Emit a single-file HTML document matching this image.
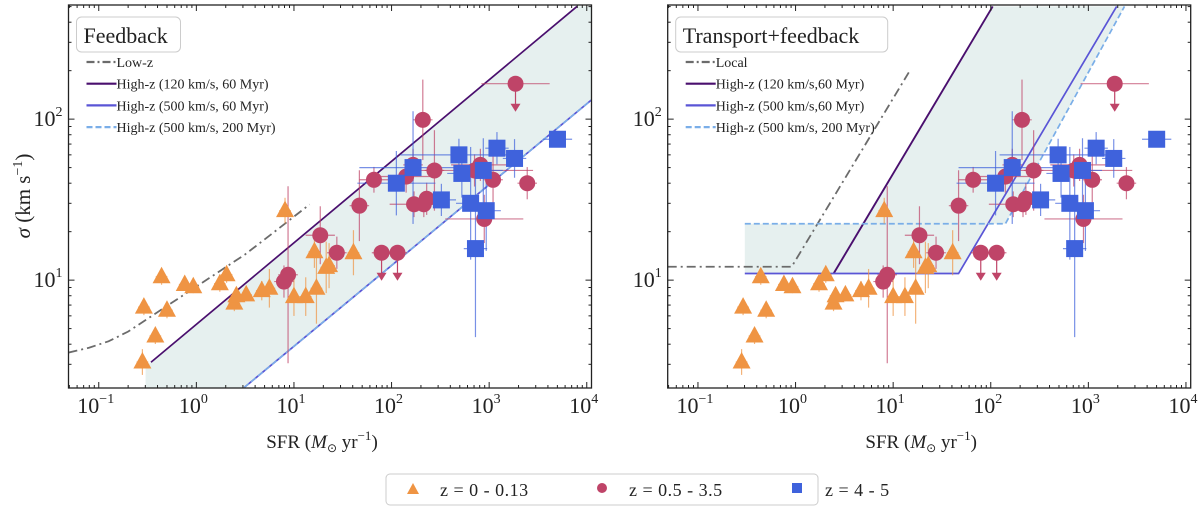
<!DOCTYPE html>
<html><head><meta charset="utf-8">
<style>
body{margin:0;background:#fff;}
svg{display:block;font-family:"Liberation Serif",serif;}
</style></head>
<body>
<svg id="fig" width="1200" height="508" viewBox="0 0 1200 508" xmlns="http://www.w3.org/2000/svg"></svg>
<script>
// ---- data (SFR, sigma in km/s) ----
const triSFR = [0.29,0.44,0.76,0.93,0.50,0.38,0.28,1.74,2.04,2.45,2.57,3.24,4.68,5.6,8.1,10,13.2,17,16.2,21.4,40.7,22.9];
const triSig = [6.8,10.5,9.4,9.1,6.5,4.5,3.1,9.5,10.8,7.2,8.0,8.1,8.6,8.9,27,7.9,7.9,8.9,15,12,14.8,12.3];
const triYerr = [0.05,0.05,0.04,0.04,0.05,0.05,0.08,0.05,0.05,0.05,0.05,0.04,0.06,0.12,0.08,0.12,0.12,0.22,0.10,0.16,0.14,0.14];

const cirSFR = [7.9,8.7,18.6,27.5,46.8,66,79,115,209,141,166,170,214,229,275,708,813,891,1096,1862,2455];
const cirSig = [9.8,10.8,19,14.8,29,42,14.8,14.8,99,44,52,29.6,29.6,32,48,48,52,24,42,166,40];
const cirUL  = [0,0,0,0,0,0,1,1,0,0,0,0,0,0,0,0,0,0,0,1,0];
const cirXerr = [0.1,0.1,0.15,0.1,0.1,0.15,0.1,0.1,0.1,0.3,0.1,0.25,0.1,0.15,0.1,0.6,0.3,0.4,0.1,0.35,0.1];
const cirYerr = [0.1,0.55,0.18,0.1,0.22,0.08,0.1,0.1,0.25,0.1,0.1,0.08,0.08,0.1,0.25,0.1,0.1,0.15,0.15,0.1,0.1];

const sqSFR = [112,166,324,490,525,871,646,933,724,1202,1820,5012];
const sqSig = [40,50,31.5,60,46,48,30,27,15.7,66,57,75];
const sqXerr = [0.4,0.55,0.15,0.6,0.15,0.2,0.15,0.15,0.12,0.12,0.12,0.15];
const sqYerr = [0.2,0.35,0.1,0.1,0.15,0.2,0.35,0.25,0.55,0.1,0.12,0.05];

// model curves (log10 SFR, log10 sigma)
const lowZ = [[-1.31,0.55],[-1.1,0.58],[-0.9,0.62],[-0.7,0.68],[-0.5,0.76],[-0.25,0.86],[0,0.96],[0.25,1.06],[0.5,1.16],[0.8,1.30],[1.16,1.47]];
const hzA_L = [[-0.465,0.49],[3.9,2.70]];
const hzB_L = [[0.49,0.333],[4.05,2.12]];
const local_R = [[-1.31,1.083],[-0.04,1.083],[1.16,2.29]];
const hzA_R = [[0.39,1.041],[2.02,2.70]];
const hzB_R = [[-0.52,1.041],[1.67,1.041],[3.29,2.70]];
const hzC_R = [[-0.52,1.35],[2.15,1.35],[3.37,2.70]];

const NS="http://www.w3.org/2000/svg";
const svg=document.getElementById('fig');
function el(t,a,p){const e=document.createElementNS(NS,t);for(const k in a)e.setAttribute(k,a[k]);(p||svg).appendChild(e);return e;}

const ORANGE="#ef9443", CRIM="#bf4468", BLUE="#3f62dc";
const XMIN=-1.31, XPX=97.6, YMIN=0.33, YPX=161, TOP=5, BOT=388;

function panel(X0, title, titleW, labels, lines, fillPoly){
  const W=523;
  const g=el('g',{});
  
  
  const px=lx=>X0+(lx-XMIN)*XPX;
  const py=ly=>BOT-(ly-YMIN)*YPX;
  const cp=el('clipPath',{id:'clip'+Math.round(X0)},g);
  el('rect',{x:X0,y:TOP,width:W,height:BOT-TOP},cp);
  const inner=el('g',{'clip-path':'url(#clip'+Math.round(X0)+')'},g);
  const fp=el('polygon',{points:fillPoly.map(p=>px(p[0])+','+py(p[1])).join(' '),fill:'#e6f0ef'},inner);
  
  
  lines.forEach(L=>{
    const l=el('polyline',{points:L.pts.map(p=>px(p[0])+','+py(p[1])).join(' '),fill:'none',stroke:L.c,'stroke-width':L.w,'stroke-dasharray':L.d||''},inner);
    
    
  });
  const eb=(x,y,xe,ye,c)=>{
    const lx=Math.log10(x), ly=Math.log10(y);
    if(xe) el('line',{x1:px(lx-xe),x2:px(lx+xe),y1:py(ly),y2:py(ly),stroke:c,'stroke-width':1.2,opacity:0.7},inner);
    if(ye) el('line',{x1:px(lx),x2:px(lx),y1:py(ly-ye),y2:py(ly+ye),stroke:c,'stroke-width':1.2,opacity:0.7},inner);
  };
  triSFR.forEach((s,i)=>eb(s,triSig[i],0.06,triYerr[i],ORANGE));
  cirSFR.forEach((s,i)=>eb(s,cirSig[i],cirXerr[i],cirUL[i]?0:cirYerr[i],CRIM));
  sqSFR.forEach((s,i)=>eb(s,sqSig[i],sqXerr[i],sqYerr[i],BLUE));
  triSFR.forEach((s,i)=>{
    const x=px(Math.log10(s)), y=py(Math.log10(triSig[i]));
    const m=el('polygon',{points:`${x},${y-10} ${x-9},${y+6.5} ${x+9},${y+6.5}`,fill:ORANGE},inner);
    
    
  });
  cirSFR.forEach((s,i)=>{
    const x=px(Math.log10(s)), y=py(Math.log10(cirSig[i]));
    if(cirUL[i]){
      el('line',{x1:x,x2:x,y1:y,y2:y+22,stroke:CRIM,'stroke-width':1.2},inner);
      el('polygon',{points:`${x-5},${y+20} ${x+5},${y+20} ${x},${y+28}`,fill:CRIM},inner);
    }
    const m=el('circle',{cx:x,cy:y,r:8,fill:CRIM},inner);
    
    
  });
  sqSFR.forEach((s,i)=>{
    const x=px(Math.log10(s)), y=py(Math.log10(sqSig[i]));
    const m=el('rect',{x:x-8.5,y:y-8.5,width:17,height:17,fill:BLUE},inner);
    
    
  });
  const fr=el('rect',{x:X0,y:TOP,width:W,height:BOT-TOP,fill:'none',stroke:'#222','stroke-width':1.3},g);
  
  
  for(let d=-2;d<=4;d++){for(let m=1;m<=9;m++){
    const x=px(d+Math.log10(m));
    if(x<X0+0.5||x>X0+W-0.5) continue;
    const len=m===1?6:3;
    el('line',{x1:x,x2:x,y1:BOT,y2:BOT-len,stroke:'#222','stroke-width':1},g);
    el('line',{x1:x,x2:x,y1:TOP,y2:TOP+len,stroke:'#222','stroke-width':1},g);
  }}
  for(let d=0;d<=2;d++){for(let m=1;m<=9;m++){
    const y=py(d+Math.log10(m));
    if(y<TOP+0.5||y>BOT-0.5) continue;
    const len=m===1?6:3;
    el('line',{x1:X0,x2:X0+len,y1:y,y2:y,stroke:'#222','stroke-width':1},g);
    el('line',{x1:X0+W,x2:X0+W-len,y1:y,y2:y,stroke:'#222','stroke-width':1},g);
  }}
  [-1,0,1,2,3,4].forEach(d=>{
    const t=el('text',{x:px(d)-3,y:413,'font-size':22,'text-anchor':'middle',fill:'#222'},g);
    
    
    t.innerHTML='10<tspan dy="-10" font-size="14">'+d.toString().replace('-','−')+'</tspan>';
  });
  [1,2].forEach(d=>{
    const t=el('text',{x:X0-6,y:py(d)+7,'font-size':22,'text-anchor':'end',fill:'#222'},g);
    
    
    t.innerHTML='10<tspan dy="-10" font-size="14">'+d+'</tspan>';
  });
  const xl=el('text',{x:X0+W/2-8,y:448,'font-size':19,'text-anchor':'middle',fill:'#222'},g);
  
  
  xl.innerHTML='SFR (<tspan font-style="italic">M</tspan><tspan font-size="12" dy="4">⊙</tspan><tspan dy="-4"> yr</tspan><tspan dy="-8" font-size="13">−1</tspan><tspan dy="8">)</tspan>';
  const lb=el('rect',{x:X0+8,y:17,width:titleW,height:35,rx:5,fill:'#fff',stroke:'#ccc','stroke-width':1},g);
  
  
  const tt=el('text',{x:X0+15,y:43,'font-size':22,fill:'#222'},g);
  tt.textContent=title;
  
  
  labels.forEach((L,i)=>{
    const y=67+i*21.7;
    el('line',{x1:X0+18,x2:X0+48,y1:y-5,y2:y-5,stroke:L.c,'stroke-width':L.w,'stroke-dasharray':L.d||''},g);
    const t=el('text',{x:X0+48,y:y,'font-size':14,fill:'#222'},g);
    t.textContent=L.t;
    
    
  });
}

const GRAY="#6b6b6b", PURP="#4a0f6e", MB="#5a55d6", LB="#7aaee8";
panel(68.5,'Feedback',104,[
  {t:'Low-z',c:GRAY,w:2.2,d:'8 3 2 3'},
  {t:'High-z (120 km/s, 60 Myr)',c:PURP,w:2.2},
  {t:'High-z (500 km/s, 60 Myr)',c:MB,w:2.2},
  {t:'High-z (500 km/s, 200 Myr)',c:LB,w:2.2,d:'6 3'}],
 [{pts:lowZ,c:GRAY,w:1.8,d:'9 4 2 4',name:'low-z-model'},
  {pts:hzA_L,c:PURP,w:1.7,name:'high-z-120-60'},
  {pts:hzB_L,c:MB,w:1.7,name:'high-z-500-60'},
  {pts:hzB_L,c:LB,w:1.5,d:'6 3',name:'high-z-500-200'}],
 [[-0.52,0.463],[3.9,2.70],[4.1,2.70],[4.1,2.145],[0.49,0.333],[-0.52,0.333]]);

panel(667.7,'Transport+feedback',212,[
  {t:'Local',c:GRAY,w:2.2,d:'8 3 2 3'},
  {t:'High-z (120 km/s,60 Myr)',c:PURP,w:2.2},
  {t:'High-z (500 km/s,60 Myr)',c:MB,w:2.2},
  {t:'High-z (500 km/s, 200 Myr)',c:LB,w:2.2,d:'6 3'}],
 [{pts:local_R,c:GRAY,w:1.8,d:'9 4 2 4',name:'local-model'},
  {pts:hzA_R,c:PURP,w:1.9,name:'high-z-120-60'},
  {pts:hzB_R,c:MB,w:1.7,name:'high-z-500-60'},
  {pts:hzC_R,c:LB,w:1.7,d:'6 3',name:'high-z-500-200'}],
 [[-0.52,1.35],[0.69,1.35],[2.02,2.70],[3.37,2.70],[2.15,1.35],[1.97,1.35],[1.67,1.041],[-0.52,1.041]]);

const yl=el('text',{x:0,y:0,'font-size':21,'text-anchor':'middle',fill:'#222',transform:'translate(30,196) rotate(-90)'});


yl.innerHTML='<tspan font-style="italic">σ</tspan> (km s<tspan dy="-8" font-size="14">−1</tspan><tspan dy="8">)</tspan>';

const lg=el('rect',{x:386,y:474,width:432,height:31,rx:4,fill:'#fff',stroke:'#ccc','stroke-width':1});


el('polygon',{points:'413,483 407,494 419,494',fill:ORANGE});
el('circle',{cx:602,cy:488,r:5,fill:CRIM});
el('rect',{x:792,y:483,width:10,height:10,fill:BLUE});
[[440,'z = 0 - 0.13'],[629,'z = 0.5 - 3.5'],[825,'z = 4 - 5']].forEach(a=>{
  const t=el('text',{x:a[0],y:496,'font-size':18,fill:'#222','letter-spacing':'0.5'});
  t.textContent=a[1];
  
  
});
</script>
</body></html>
